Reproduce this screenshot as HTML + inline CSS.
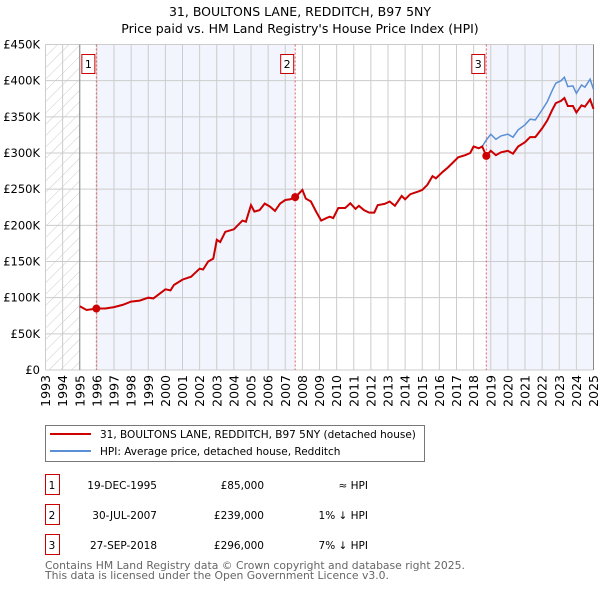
<!DOCTYPE html>
<html><head><meta charset="utf-8"><style>
body{margin:0;background:#fff;width:600px;height:590px;overflow:hidden;font-family:"DejaVu Sans","Liberation Sans",sans-serif}
svg text{font-family:"DejaVu Sans","Liberation Sans",sans-serif}
</style></head><body>
<svg id="c" width="600" height="590" xmlns="http://www.w3.org/2000/svg">
<defs><pattern id="hatch" width="8" height="8" patternUnits="userSpaceOnUse" patternTransform="rotate(45)"><line x1="0" y1="0" x2="0" y2="8" stroke="#ccc" stroke-width="1"/></pattern></defs>
<text x="300" y="16" text-anchor="middle" font-size="12.5">31, BOULTONS LANE, REDDITCH, B97 5NY</text>
<text x="300" y="33" text-anchor="middle" font-size="12.5">Price paid vs. HM Land Registry's House Price Index (HPI)</text>
<g id="plot"></g>
<g>
<rect x="45.5" y="425.5" width="379" height="36" fill="#fff" stroke="#777"/>
<line x1="50" y1="434" x2="91" y2="434" stroke="#cc0000" stroke-width="2"/>
<text x="100" y="438" font-size="10.5">31, BOULTONS LANE, REDDITCH, B97 5NY (detached house)</text>
<line x1="50" y1="451" x2="91" y2="451" stroke="#5b8fd6" stroke-width="2"/>
<text x="100" y="455" font-size="10.5">HPI: Average price, detached house, Redditch</text>
</g>
<g id="table" font-size="10.5"></g>
<text x="45" y="569" font-size="10.8" fill="#666">Contains HM Land Registry data © Crown copyright and database right 2025.</text>
<text x="45" y="579" font-size="10.8" fill="#666">This data is licensed under the Open Government Licence v3.0.</text>
</svg>
<script>
const hpiYears=[1995.0,1995.4,1996.0,1996.5,1997,1997.5,1998,1998.5,1999,1999.3,2000,2000.3,2000.5,2001,2001.5,2002,2002.2,2002.5,2002.8,2003,2003.2,2003.5,2004,2004.5,2004.7,2005,2005.2,2005.5,2005.8,2006.1,2006.4,2006.7,2007,2007.3,2007.6,2008,2008.2,2008.5,2008.8,2009.1,2009.4,2009.6,2009.8,2010.1,2010.5,2010.8,2011.1,2011.3,2011.6,2011.9,2012.2,2012.4,2012.8,2013.1,2013.4,2013.8,2014.0,2014.3,2014.8,2015.0,2015.3,2015.6,2015.8,2016.2,2016.5,2016.8,2017.1,2017.5,2017.8,2018.0,2018.3,2018.5,2018.74,2019.0,2019.3,2019.6,2020.0,2020.3,2020.6,2021.0,2021.3,2021.6,2022.0,2022.3,2022.6,2022.8,2023.1,2023.3,2023.5,2023.8,2024.0,2024.3,2024.5,2024.8,2025.0];
const hpiValues=[88,83,85,85,87,90,94.5,96,100,99,111.6,110,117.5,125,129,140,139,150,154,180,177,191,194.5,206.5,205,228,219,221,230,226,220,230,235,236,240,249,237,233,219,206.5,210,212,210,224,224,230.5,222.7,227,221,217.6,217.6,228,229.6,233,227,240.7,236,243,247,249,256,268,265,274,280,287,294,297,300,309,306.5,309,318,326,319,323.6,326,321.8,332,339,346.7,345.8,359.6,371,387,396.5,400,404.8,392,392.8,382.6,394,391,402,388];
const paidValues=[88,83,85,85,87,90,94.5,96,100,99,111.6,110,117.5,125,129,140,139,150,154,180,177,191,194.5,206.5,205,228,219,221,230,226,220,230,235,236,239,249,237,233,219,206.5,210,212,210,224,224,230.5,222.7,227,221,217.6,217.6,228,229.6,233,227,240.7,236,243,247,249,256,268,265,274,280,287,294,297,300,309,306.5,309,296,303,297,301,303,299,309,315,322,322,334,345,360,369,372,376,365,365,356,366,364,374,361];
const saleYears=[1995.97,2007.58,2018.74];
const salePrices=[85,239,296];
const saleLabels=["1","2","3"];
const saleDates=["19-DEC-1995","30-JUL-2007","27-SEP-2018"];
const salePriceText=["£85,000","£239,000","£296,000"];
const saleHpiText=["≈ HPI","1% ↓ HPI","7% ↓ HPI"];
const yTicks=[0,50,100,150,200,250,300,350,400,450];
const yTickLabels=["£0","£50K","£100K","£150K","£200K","£250K","£300K","£350K","£400K","£450K"];
const xTicks=[1993,1994,1995,1996,1997,1998,1999,2000,2001,2002,2003,2004,2005,2006,2007,2008,2009,2010,2011,2012,2013,2014,2015,2016,2017,2018,2019,2020,2021,2022,2023,2024,2025];

const X0=45.5,X1=593.5,Y0=370,Y1=44.5;
const xs=y=>X0+(y-1993)/32*(X1-X0);
const ys=v=>Y0-v/450*(Y0-Y1);
const NS="http://www.w3.org/2000/svg";
const plot=document.getElementById('plot');
function mk(tag,at,parent){const e=document.createElementNS(NS,tag);for(const k in at)e.setAttribute(k,at[k]);(parent||plot).appendChild(e);return e;}

let r=mk('rect',{x:X0,y:Y1,width:xs(1995)-X0,height:Y0-Y1,fill:'url(#hatch)'});


r=mk('rect',{x:xs(saleYears[0]),y:Y1,width:xs(saleYears[1])-xs(saleYears[0]),height:Y0-Y1,fill:'#f2f5fd'});


r=mk('rect',{x:xs(saleYears[2]),y:Y1,width:X1-xs(saleYears[2]),height:Y0-Y1,fill:'#f2f5fd'});



yTicks.forEach((t,i)=>{
 const l=mk('line',{x1:X0,x2:X1,y1:ys(t),y2:ys(t),stroke:'#ccc'});
 
 
 const tx=mk('text',{x:40,y:ys(t)+4,'text-anchor':'end','font-size':11.5});
 tx.textContent=yTickLabels[i];
 
 
});
xTicks.forEach(t=>{
 const l=mk('line',{x1:xs(t),x2:xs(t),y1:Y1,y2:Y0,stroke:'#ccc'});
 
 
 const tx=mk('text',{x:0,y:0,'text-anchor':'end','font-size':12.5,transform:`translate(${xs(t)+4.5},375) rotate(-90)`});
 tx.textContent=t;
 
 
});
let ax=mk('line',{x1:xs(1995),x2:xs(1995),y1:Y1,y2:Y0,stroke:'#888'});


ax=mk('line',{x1:X1,x2:X1,y1:Y1,y2:Y0,stroke:'#888'});



saleYears.forEach((s,i)=>{
 const l=mk('line',{x1:xs(s),x2:xs(s),y1:Y1,y2:Y0,stroke:'#e06060','stroke-dasharray':'2,2'});
 
 
 const b=mk('rect',{x:xs(s)-14.5,y:54.5,width:13,height:19,fill:'#fff',stroke:'#cc0000'});
 
 
 const t=mk('text',{x:xs(s)-8,y:68,'text-anchor':'middle','font-size':11});
 t.textContent=saleLabels[i];
 
 
});

const pts=v=>hpiYears.map((y,i)=>xs(y).toFixed(1)+','+ys(v[i]).toFixed(1)).join(' ');
let pl=mk('polyline',{points:pts(hpiValues),fill:'none',stroke:'#5b8fd6','stroke-width':1.5});


pl=mk('polyline',{points:pts(paidValues),fill:'none',stroke:'#cc0000','stroke-width':2});


saleYears.forEach((s,i)=>{
 const c=mk('circle',{cx:xs(s),cy:ys(salePrices[i]),r:4,fill:'#cc0000'});
 
 
});

const tb=document.getElementById('table');
saleLabels.forEach((lab,i)=>{
 const cy=485+i*30;
 const b=mk('rect',{x:45.5,y:cy-10.5,width:14,height:20,fill:'#fff',stroke:'#cc0000'},tb);
 
 
 const cells=[[52,'middle',lab,'table-row-number'],[157,'end',saleDates[i],'table-date'],[264,'end',salePriceText[i],'table-price'],[368,'end',saleHpiText[i],'table-hpi-diff']];
 cells.forEach(c=>{
  const t=mk('text',{x:c[0],y:cy+4,'text-anchor':c[1]},tb);
  t.textContent=c[2];
  
  
 });
});
</script>
</body></html>
